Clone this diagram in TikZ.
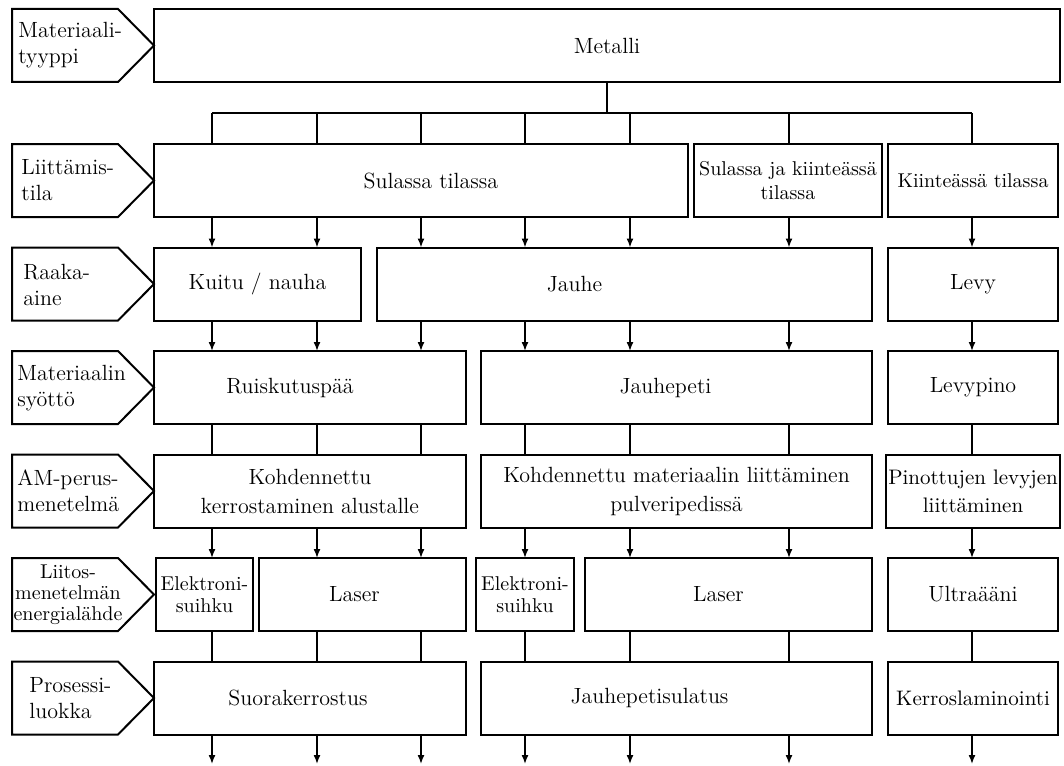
\documentclass[tikz,border=0pt]{standalone}
\usepackage{tikz}
\usetikzlibrary{positioning, arrows.meta}
\tikzstyle{flow_box}=[draw, line width=1pt, inner sep=1pt, outer sep=0pt, minimum height=36.5pt, align=center, font=\fontsize{11}{14.5}\selectfont]
\tikzstyle{small_box}=[flow_box, font=\fontsize{10}{12}\selectfont]
\tikzstyle{tag_shape}=[draw, line width=1pt, line join=miter]
\tikzstyle{tag_text}=[anchor=west, inner sep=0pt, align=left, font=\fontsize{11}{13}\selectfont]
\tikzstyle{flow_line}=[line width=0.75pt]
\tikzstyle{flow_arrow}=[flow_line, -{Latex[length=4.5pt, width=3.5pt]}]
\tikzset{text_left/.style={execute at end node={\hspace*{#1}}},
         text_right/.style={execute at begin node={\hspace*{#1}}}}

\begin{document}
\begin{tikzpicture}[x=0.5pt, y=-0.5pt]
    \useasboundingbox (0,0) rectangle (1064,765);

    \node[flow_box, minimum width=453pt] at (607, 45.5) (metal) {Metalli};

    \node[flow_box, minimum width=267pt, text_right=10pt] at (421, 180.5) (sul) {Sulassa tilassa};
    \node[small_box, minimum width=94pt, font=\fontsize{10}{12}\selectfont] at (788, 180.5) (sulkiin) {Sulassa ja kiinteässä\\tilassa};
    \node[small_box, minimum width=85pt] at (973, 180.5) (kiin) {Kiinteässä tilassa};

    \node[flow_box, minimum width=103.5pt] at (257.5, 284) (kuitu) {Kuitu / nauha};
    \node[flow_box, minimum width=247.5pt, text_left=50pt] at (624.5, 284) (jauhe) {Jauhe};
    \node[flow_box, minimum width=85pt] at (973, 284) (levy) {Levy};

    \node[flow_box, minimum width=156pt, text_left=20pt] at (310, 387.5) (ruisk) {Ruiskutuspää};
    \node[flow_box, minimum width=195.5pt, text_left=11pt] at (676.5, 387.5) (jpeti) {Jauhepeti};
    \node[flow_box, minimum width=85pt] at (973, 387.5) (levypino) {Levypino};

    \node[flow_box, minimum width=156pt] at (310, 491) (kohd1) {Kohdennettu\\kerrostaminen alustalle};
    \node[flow_box, minimum width=195.5pt] at (676.5, 491) (kohd2) {Kohdennettu materiaalin liittäminen\\pulveripedissä};
    \node[small_box, minimum width=87pt, font=\fontsize{10.5}{14}\selectfont] at (973, 491) (pinot) {Pinottujen levyjen\\liittäminen};

    \node[small_box, minimum width=48.5pt, font=\fontsize{10}{11}\selectfont] at (204.5, 594.5) (eb1) {Elektroni-\\suihku};
    \node[flow_box, minimum width=103.5pt, text_left=8pt] at (362.5, 594.5) (laser1) {Laser};
    \node[small_box, minimum width=49pt, font=\fontsize{10}{11}\selectfont] at (525, 594.5) (eb2) {Elektroni-\\suihku};
    \node[flow_box, minimum width=143.5pt, text_left=10pt] at (728.5, 594.5) (laser2) {Laser};
    \node[flow_box, minimum width=85pt] at (973, 594.5) (ultra) {Ultraääni};

    \node[flow_box, minimum width=156pt, text_left=12pt] at (310, 698) (suora) {Suorakerrostus};
    \node[flow_box, minimum width=195.5pt, text_left=27pt] at (676.5, 698) (jpsul) {Jauhepetisulatus};
    \node[flow_box, minimum width=85pt, font=\fontsize{10.5}{13}\selectfont] at (973, 698) (kerros) {Kerroslaminointi};

    \foreach \yc in {45.5, 180.5, 284, 387.5, 491, 594.5, 698}
        \draw[tag_shape] (12, \yc-36.5) -- (118, \yc-36.5) -- (154, \yc) -- (118, \yc+36.5) -- (12, \yc+36.5) -- cycle;
    \node[tag_text] at (18, 45.5) (tag1) {Materiaali-\\tyyppi};
    \node[tag_text] at (21, 180.5) (tag2) {Liittämis-\\tila};
    \node[tag_text] at (23, 285) (tag3) {Raaka-\\aine};
    \node[tag_text] at (17, 388) (tag4) {Materiaalin\\syöttö};
    \node[tag_text] at (17, 491) (tag5) {AM-perus-\\menetelmä};
    \node[tag_text, anchor=center, align=center, font=\fontsize{10}{10.5}\selectfont] at (68, 595) (tag6) {Liitos-\\menetelmän\\energialähde};
    \node[tag_text] at (29, 698) (tag7) {Prosessi-\\luokka};

    \foreach \n/\x in {1/212, 2/317, 3/421, 4/525, 5/630, 6/789, 7/972}
        \coordinate (c\n) at (\x, 0);
    \coordinate (bus) at (0, 113);
    \coordinate (bottom) at (0, 764);

    \draw[flow_line] (metal.south) -- (metal.south |- bus);
    \draw[flow_line] (c1 |- bus) -- (c7 |- bus);
    \foreach \c/\b in {c1/sul, c2/sul, c3/sul, c4/sul, c5/sul, c6/sulkiin, c7/kiin}
        \draw[flow_line] (\c |- bus) -- (\b.north -| \c);

    \foreach \c/\a/\b in {c1/sul/kuitu, c2/sul/kuitu, c3/sul/jauhe, c4/sul/jauhe, c5/sul/jauhe, c6/sulkiin/jauhe, c7/kiin/levy,
                          c1/kuitu/ruisk, c2/kuitu/ruisk, c3/jauhe/ruisk, c4/jauhe/jpeti, c5/jauhe/jpeti, c6/jauhe/jpeti, c7/levy/levypino,
                          c1/kohd1/eb1, c2/kohd1/laser1, c3/kohd1/laser1, c4/kohd2/eb2, c5/kohd2/laser2, c6/kohd2/laser2, c7/pinot/ultra}
        \draw[flow_arrow] (\a.south -| \c) -- (\b.north -| \c);

    \foreach \c/\a/\b in {c1/ruisk/kohd1, c2/ruisk/kohd1, c3/ruisk/kohd1, c4/jpeti/kohd2, c5/jpeti/kohd2, c6/jpeti/kohd2, c7/levypino/pinot,
                          c1/eb1/suora, c2/laser1/suora, c3/laser1/suora, c4/eb2/jpsul, c5/laser2/jpsul, c6/laser2/jpsul, c7/ultra/kerros}
        \draw[flow_line] (\a.south -| \c) -- (\b.north -| \c);

    \foreach \c/\a in {c1/suora, c2/suora, c3/suora, c4/jpsul, c5/jpsul, c6/jpsul, c7/kerros}
        \draw[flow_arrow] (\a.south -| \c) -- (bottom -| \c);
\end{tikzpicture}
\end{document}
